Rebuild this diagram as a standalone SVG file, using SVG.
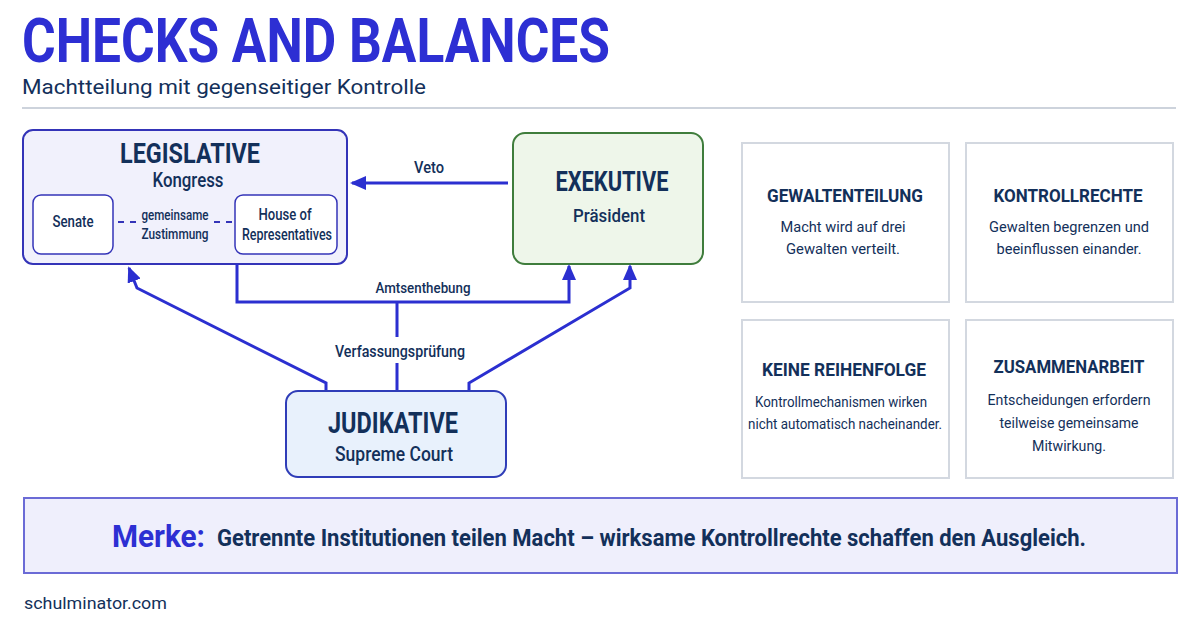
<svg xmlns="http://www.w3.org/2000/svg" width="1200" height="630" viewBox="0 0 1200 630">
<defs>
<style>
text{font-family:Roboto,"Liberation Sans",sans-serif;fill:#13305a}
.hd{font-weight:700}
.md{font-weight:500}
.c{text-anchor:middle}
.conn{fill:none;stroke:#2b2fd0;stroke-width:3}
.dash{stroke:#3434b8;stroke-width:1.8;stroke-dasharray:6 6}
.card{fill:#ffffff;stroke:#d3d8e0;stroke-width:2}
</style>
<marker id="ah" viewBox="0 0 16 14" refX="14" refY="7" markerWidth="16" markerHeight="14" markerUnits="userSpaceOnUse" orient="auto">
<path d="M0,0 L16,7 L0,14 Z" fill="#2b2fd0"/>
</marker>
</defs>
<rect width="1200" height="630" fill="#ffffff"/>
<g id="header">
<text x="22" y="62" font-size="61" font-weight="700" style="fill:#2d2fd3" textLength="588" lengthAdjust="spacingAndGlyphs">CHECKS AND BALANCES</text>
<text x="22" y="94" font-size="20" textLength="404" lengthAdjust="spacingAndGlyphs">Machtteilung mit gegenseitiger Kontrolle</text>
<line x1="22" y1="108" x2="1176" y2="108" stroke="#cdd3dc" stroke-width="2"/>
</g>
<g id="legislative">
<rect x="23" y="130" width="324" height="134" rx="10" fill="#f1f1fc" stroke="#3434b8" stroke-width="2"/>
<text class="hd c" x="190" y="163" font-size="27" textLength="140" lengthAdjust="spacingAndGlyphs">LEGISLATIVE</text>
<text class="md c" x="188" y="187" font-size="20" textLength="71" lengthAdjust="spacingAndGlyphs">Kongress</text>
</g>
<g id="senate">
<rect x="33" y="195" width="80" height="59" rx="8" fill="#ffffff" stroke="#3434b8" stroke-width="1.5"/>
<text class="md c" x="73" y="227" font-size="16" textLength="41" lengthAdjust="spacingAndGlyphs">Senate</text>
</g>
<g id="house">
<rect x="235" y="195" width="102" height="59" rx="8" fill="#ffffff" stroke="#3434b8" stroke-width="1.5"/>
<text class="md c" x="285" y="220" font-size="16" textLength="53" lengthAdjust="spacingAndGlyphs">House of</text>
<text class="md c" x="287" y="240" font-size="16" textLength="90" lengthAdjust="spacingAndGlyphs">Representatives</text>
</g>
<g id="exekutive">
<rect x="513" y="133" width="190" height="131" rx="12" fill="#eef6ea" stroke="#3f7d3c" stroke-width="2"/>
<text class="hd c" x="612" y="191" font-size="27" textLength="113" lengthAdjust="spacingAndGlyphs">EXEKUTIVE</text>
<text class="md c" x="609" y="222" font-size="19" textLength="72" lengthAdjust="spacingAndGlyphs">Präsident</text>
</g>
<g id="judikative">
<rect x="286" y="391" width="220" height="86" rx="12" fill="#e8f1fc" stroke="#2f3db8" stroke-width="2"/>
<text class="hd c" x="393" y="433" font-size="29" textLength="130" lengthAdjust="spacingAndGlyphs">JUDIKATIVE</text>
<text class="md c" x="394" y="461" font-size="21" textLength="118" lengthAdjust="spacingAndGlyphs">Supreme Court</text>
</g>
<g id="connectors">
<path class="conn" d="M508,183 H352" marker-end="url(#ah)"/>
<path class="conn" d="M237,264 V302 H569 V266" marker-end="url(#ah)"/>
<path class="conn" d="M326,390 V383 L137,288 L129,268" marker-end="url(#ah)"/>
<path class="conn" d="M469,390 V383 L630,288 V266" marker-end="url(#ah)"/>
<path class="conn" d="M397,302 V337 M397,363 V390"/>
<line class="dash" x1="118" y1="222" x2="136" y2="222"/>
<line class="dash" x1="214" y1="222" x2="232" y2="222"/>
<text class="md c" x="175" y="220" font-size="14" textLength="67" lengthAdjust="spacingAndGlyphs">gemeinsame</text>
<text class="md c" x="175" y="239" font-size="14" textLength="67" lengthAdjust="spacingAndGlyphs">Zustimmung</text>
<text class="md c" x="429" y="173" font-size="17" textLength="30" lengthAdjust="spacingAndGlyphs">Veto</text>
<text class="md c" x="423" y="293" font-size="15" textLength="95" lengthAdjust="spacingAndGlyphs">Amtsenthebung</text>
<text class="md c" x="400" y="357" font-size="17" textLength="130" lengthAdjust="spacingAndGlyphs">Verfassungsprüfung</text>
</g>
<g id="card-gewaltenteilung">
<rect class="card" x="742" y="143" width="207" height="159"/>
<text class="hd c" x="845" y="202" font-size="19" textLength="156" lengthAdjust="spacingAndGlyphs">GEWALTENTEILUNG</text>
<text class="c" x="843" y="232" font-size="15" textLength="125" lengthAdjust="spacingAndGlyphs">Macht wird auf drei</text>
<text class="c" x="843" y="254" font-size="15" textLength="114" lengthAdjust="spacingAndGlyphs">Gewalten verteilt.</text>
</g>
<g id="card-kontrollrechte">
<rect class="card" x="966" y="143" width="207" height="159"/>
<text class="hd c" x="1068" y="202" font-size="19" textLength="149" lengthAdjust="spacingAndGlyphs">KONTROLLRECHTE</text>
<text class="c" x="1069" y="232" font-size="15" textLength="160" lengthAdjust="spacingAndGlyphs">Gewalten begrenzen und</text>
<text class="c" x="1069" y="254" font-size="15" textLength="145" lengthAdjust="spacingAndGlyphs">beeinflussen einander.</text>
</g>
<g id="card-reihenfolge">
<rect class="card" x="742" y="320" width="207" height="158"/>
<text class="hd c" x="844" y="376" font-size="19" textLength="164" lengthAdjust="spacingAndGlyphs">KEINE REIHENFOLGE</text>
<text class="c" x="841" y="407" font-size="15" textLength="172" lengthAdjust="spacingAndGlyphs">Kontrollmechanismen wirken</text>
<text class="c" x="845" y="429" font-size="15" textLength="194" lengthAdjust="spacingAndGlyphs">nicht automatisch nacheinander.</text>
</g>
<g id="card-zusammenarbeit">
<rect class="card" x="966" y="320" width="207" height="158"/>
<text class="hd c" x="1069" y="373" font-size="19" textLength="151" lengthAdjust="spacingAndGlyphs">ZUSAMMENARBEIT</text>
<text class="c" x="1069" y="405" font-size="15" textLength="163" lengthAdjust="spacingAndGlyphs">Entscheidungen erfordern</text>
<text class="c" x="1069" y="428" font-size="15" textLength="139" lengthAdjust="spacingAndGlyphs">teilweise gemeinsame</text>
<text class="c" x="1069" y="451" font-size="15" textLength="74" lengthAdjust="spacingAndGlyphs">Mitwirkung.</text>
</g>
<g id="merke">
<rect x="24" y="498" width="1153" height="75" fill="#efeffc" stroke="#6b6bd6" stroke-width="2"/>
<text x="112" y="547" font-size="31" font-weight="700" style="fill:#2d2fd3" textLength="93" lengthAdjust="spacingAndGlyphs">Merke:</text>
<text class="hd" x="217" y="546" font-size="23" textLength="869" lengthAdjust="spacingAndGlyphs">Getrennte Institutionen teilen Macht – wirksame Kontrollrechte schaffen den Ausgleich.</text>
</g>
<g id="footer">
<text x="24" y="609" font-size="17" textLength="143" lengthAdjust="spacingAndGlyphs">schulminator.com</text>
</g>
</svg>
